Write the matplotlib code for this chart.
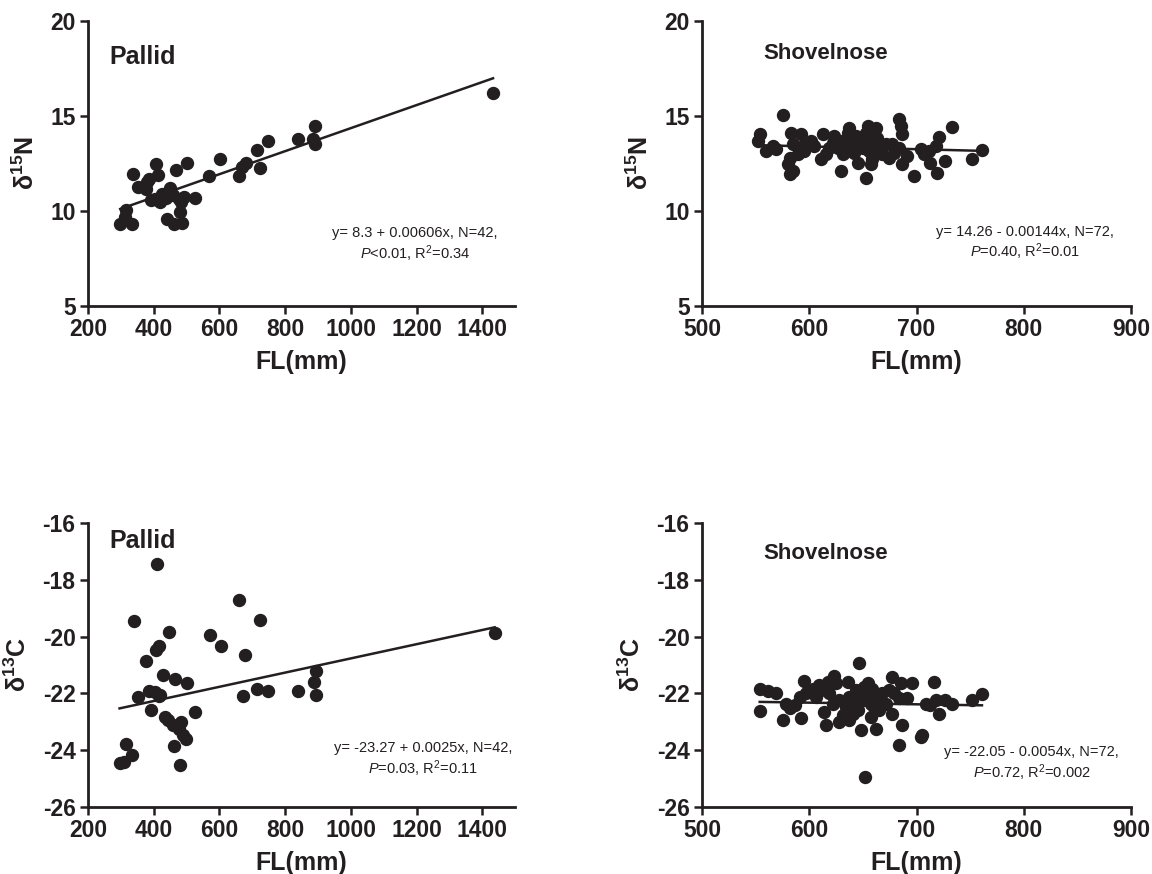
import numpy as np
import matplotlib
matplotlib.use("Agg")
import matplotlib.pyplot as plt

plt.rcParams["font.family"] = ["Liberation Sans", "DejaVu Sans"]
plt.rcParams["mathtext.fontset"] = "custom"
plt.rcParams["mathtext.rm"] = "Liberation Sans"
plt.rcParams["mathtext.it"] = "Liberation Sans:italic"
plt.rcParams["mathtext.bf"] = "Liberation Sans:bold"
plt.rcParams["mathtext.default"] = "regular"
plt.rcParams["axes.unicode_minus"] = False

INK = "#231f20"

# -------------------- data -------------------- #

pallid_n_fl = [298, 317, 314, 334, 337, 352, 378, 385, 393, 408, 413, 418, 428, 441,
               449, 437, 463, 467, 476, 481, 487, 484, 491, 501, 527, 568, 603, 659,
               670, 680, 713, 723, 748, 838, 886, 892, 892, 1433,
               459, 424, 380, 403]
pallid_n_val = [9.30, 10.07, 9.68, 9.33, 11.96, 11.26, 11.18, 11.67, 10.56, 12.49, 11.88,
                10.47, 10.74, 9.60, 11.23, 10.70, 9.33, 12.14, 10.65, 9.95, 9.37, 10.47,
                10.74, 12.53, 10.70, 11.82, 12.75, 11.82, 12.32, 12.53, 13.23, 12.26,
                13.68, 13.81, 13.81, 14.46, 13.54, 16.21,
                10.82, 10.90, 11.50, 10.65]

pallid_c_fl = [410, 661, 340, 725, 448, 1438, 570, 605, 415, 408, 678, 377, 428, 466,
               502, 894, 887, 894, 714, 749, 840, 671, 352, 387, 415, 392, 433, 443,
               458, 484, 489, 526, 463, 479, 317, 334, 296, 311,
               418, 477, 403, 497]
pallid_c_val = [-17.44, -18.73, -19.45, -19.42, -19.83, -19.89, -19.94, -20.33, -20.33,
                -20.47, -20.65, -20.85, -21.36, -21.51, -21.65, -21.21, -21.59, -22.06,
                -21.86, -21.91, -21.92, -22.10, -22.12, -21.91, -22.10, -22.59, -22.82,
                -22.94, -23.12, -23.00, -23.47, -22.67, -23.86, -24.53, -23.79, -24.18,
                -24.45, -24.41,
                -22.06, -23.24, -21.94, -23.59]

shovel_n_fl = [553.8, 552.3, 559.4, 566.2, 569.3, 575.4, 583.2, 584.7, 581.6, 580.1,
               584.7, 581.6, 592.5, 594.0, 589.4, 595.5, 601.7, 604.8, 612.6, 611.0,
               615.6, 623.4, 621.8, 626.5, 628.0, 629.6, 634.2, 635.7, 637.3, 634.2,
               631.1, 643.5, 646.6, 645.0, 642.0, 654.3, 652.7, 654.3, 655.8, 658.9,
               657.4, 662.0, 663.6, 665.1, 660.5, 652.7, 668.2, 671.3, 677.5, 679.0,
               674.4, 683.7, 685.2, 686.8, 683.7, 686.8, 691.4, 697.6, 703.8, 706.9,
               711.5, 713.0, 717.7, 720.8, 719.2, 727.0, 733.1, 751.7, 761.0, 618.7,
               649.7, 640.4]
shovel_n_val = [14.04, 13.69, 13.16, 13.42, 13.25, 15.05, 14.12, 13.51, 12.81, 12.46,
                12.11, 11.93, 14.04, 13.42, 12.98, 13.16, 13.69, 13.42, 14.04, 12.72,
                12.98, 13.95, 13.60, 13.33, 13.69, 12.11, 13.77, 14.12, 14.39, 13.16,
                12.98, 13.95, 13.51, 12.55, 13.07, 14.47, 14.12, 13.69, 13.16, 12.72,
                12.46, 14.39, 13.86, 13.16, 13.60, 11.76, 12.98, 13.51, 13.51, 13.07,
                12.81, 14.83, 14.47, 14.04, 13.33, 12.46, 12.90, 11.84, 13.25, 12.98,
                13.16, 12.55, 13.42, 13.90, 12.02, 12.63, 14.42, 12.72, 13.21, 13.33,
                13.33, 13.51]

shovel_c_fl = [553.8, 561.5, 569.3, 554.4, 575.4, 592.5, 578.5, 581.6, 586.3, 590.9,
               595.5, 603.3, 609.5, 611.0, 614.1, 615.6, 618.7, 623.4, 624.9, 628.0,
               628.0, 631.1, 635.7, 637.3, 637.3, 641.9, 640.4, 646.6, 646.6, 648.1,
               645.0, 651.2, 654.3, 655.8, 657.4, 658.9, 662.0, 665.1, 663.6, 668.2,
               671.3, 677.5, 679.0, 677.5, 685.2, 683.7, 686.1, 683.7, 691.4, 696.0,
               703.8, 705.3, 713.0, 716.1, 717.7, 720.8, 727.0, 733.1, 751.7, 761.0,
               652.1, 597.1, 606.4, 621.8, 634.2, 649.7, 660.5, 674.4, 643.5, 657.4,
               617.2, 708.4]
shovel_c_val = [-21.83, -21.91, -22.00, -22.61, -22.94, -22.88, -22.36, -22.53, -22.41,
                -22.12, -21.55, -21.83, -21.71, -21.88, -22.65, -23.12, -22.00, -21.39,
                -21.65, -22.24, -23.00, -22.77, -21.59, -22.12, -22.94, -22.36, -22.71,
                -20.92, -22.00, -23.30, -22.59, -21.77, -21.65, -22.00, -22.36, -21.83,
                -23.24, -22.59, -22.18, -22.00, -22.36, -21.41, -22.00, -22.71, -21.65,
                -22.18, -23.12, -23.82, -22.18, -21.63, -23.55, -23.47, -22.41, -21.59,
                -22.24, -22.71, -22.24, -22.36, -22.24, -22.02, -24.94, -22.00, -22.12,
                -22.36, -22.47, -22.24, -22.47, -21.88, -21.88, -22.83, -21.59, -22.36]

# regression lines as drawn (intercept, slope)
fit_pallid_n = (8.3, 0.00606)
fit_shovel_n = (14.26, -0.00144)
fit_pallid_c = (-23.27, 0.0025)
fit_shovel_c = (-21.98, -0.00058)

stats_pallid_n = ["y= 8.3 + 0.00606x, N=42,", r"$\mathit{P}$<0.01, R$^{2}$=0.34"]
stats_shovel_n = ["y= 14.26 - 0.00144x, N=72,", r"$\mathit{P}$=0.40, R$^{2}$=0.01"]
stats_pallid_c = ["y= -23.27 + 0.0025x, N=42,", r"$\mathit{P}$=0.03, R$^{2}$=0.11"]
stats_shovel_c = ["y= -22.05 - 0.0054x, N=72,", r"$\mathit{P}$=0.72, R$^{2}$=0.002"]


# -------------------- helpers -------------------- #

def style_axes(ax, xlim, xticks, ylim, yticks, ylabel):
    for side in ("top", "right"):
        ax.spines[side].set_visible(False)
    for side in ("left", "bottom"):
        ax.spines[side].set_linewidth(2.0)
        ax.spines[side].set_color(INK)
    ax.set_xlim(*xlim)
    ax.set_ylim(*ylim)
    ax.set_xticks(xticks)
    ax.set_yticks(yticks)
    ax.tick_params(direction="out", length=6, width=1.8, color=INK, pad=3,
                   labelsize=16.5, labelcolor=INK)
    for lab in ax.get_xticklabels() + ax.get_yticklabels():
        lab.set_fontweight("bold")
    ax.set_xlabel("FL(mm)", fontsize=18, fontweight="bold", color=INK, labelpad=6)
    ax.set_ylabel(ylabel, fontsize=18, fontweight="bold", color=INK, labelpad=8)


def panel(ax, fl, val, fit, stats, name, name_pos, name_size, stats_pos):
    fl = np.asarray(fl, dtype=float)
    val = np.asarray(val, dtype=float)
    ax.plot(fl, val, "o", ms=8.6, color=INK, mec=INK, zorder=3, clip_on=False)
    xs = np.array([fl.min(), fl.max()])
    ax.plot(xs, fit[0] + fit[1] * xs, color=INK, lw=1.8, zorder=2)
    ax.text(name_pos[0], name_pos[1], name, transform=ax.transAxes, fontsize=name_size,
            fontweight="bold", color=INK, va="baseline", ha="left")
    ax.text(stats_pos[0], stats_pos[1], stats[0], transform=ax.transAxes, fontsize=10.5,
            color=INK, ha="center", va="center")
    ax.text(stats_pos[0], stats_pos[1] - 0.072, stats[1], transform=ax.transAxes,
            fontsize=10.5, color=INK, ha="center", va="center")


# -------------------- figure -------------------- #

fig = plt.figure(figsize=(11.52, 8.74), dpi=100)

ax_tl = fig.add_axes([0.0764, 0.6499, 0.3707, 0.3261])
ax_tr = fig.add_axes([0.6094, 0.6499, 0.3724, 0.3261])
ax_bl = fig.add_axes([0.0764, 0.0767, 0.3707, 0.3250])
ax_br = fig.add_axes([0.6094, 0.0767, 0.3724, 0.3250])

dn = r"$\delta^{\mathbf{15}}$N"
dc = r"$\delta^{\mathbf{13}}$C"

style_axes(ax_tl, (200, 1500), range(200, 1401, 200), (5, 20), [5, 10, 15, 20], dn)
style_axes(ax_tr, (500, 900), range(500, 901, 100), (5, 20), [5, 10, 15, 20], dn)
style_axes(ax_bl, (200, 1500), range(200, 1401, 200), (-26, -16), range(-26, -15, 2), dc)
style_axes(ax_br, (500, 900), range(500, 901, 100), (-26, -16), range(-26, -15, 2), dc)

panel(ax_tl, pallid_n_fl, pallid_n_val, fit_pallid_n, stats_pallid_n,
      "Pallid", (0.049, 0.849), 18, (0.766, 0.256))
panel(ax_tr, shovel_n_fl, shovel_n_val, fit_shovel_n, stats_shovel_n,
      "Shovelnose", (0.142, 0.868), 16, (0.753, 0.261))
panel(ax_bl, pallid_c_fl, pallid_c_val, fit_pallid_c, stats_pallid_c,
      "Pallid", (0.049, 0.91), 18, (0.785, 0.208))
panel(ax_br, shovel_c_fl, shovel_c_val, fit_shovel_c, stats_shovel_c,
      "Shovelnose", (0.142, 0.873), 16, (0.768, 0.194))

fig.savefig("out.png", dpi=100)
